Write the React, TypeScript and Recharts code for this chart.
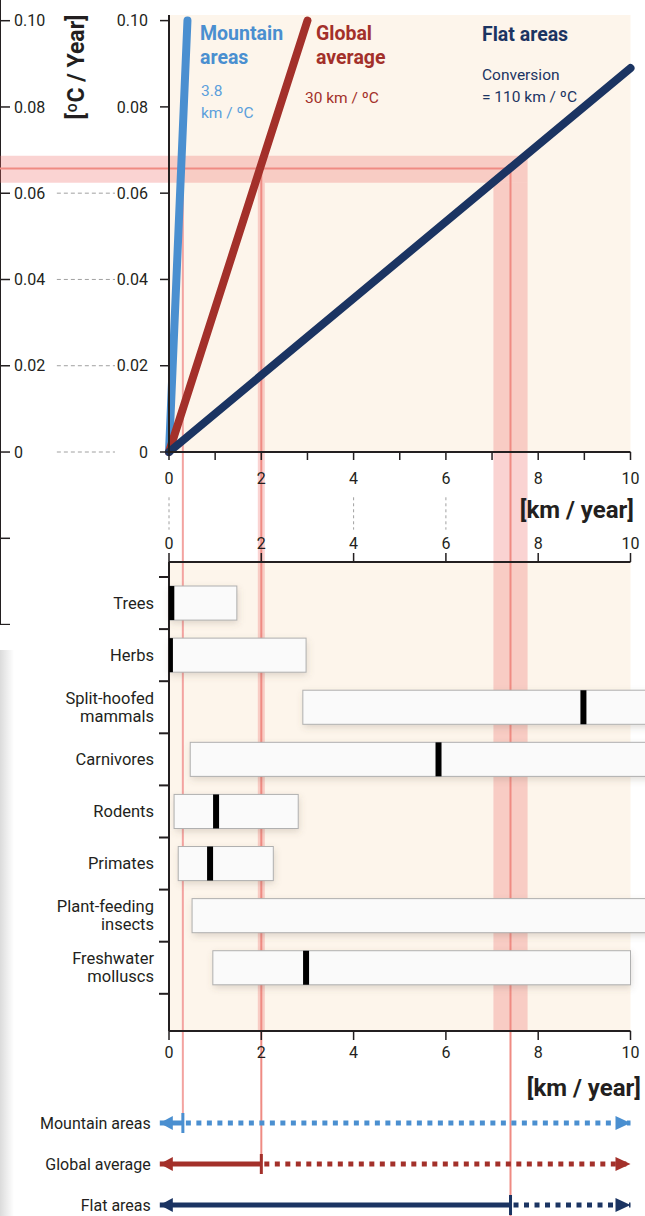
import React from 'react';
import { ComposedChart, LineChart, Line, Scatter, XAxis, YAxis, ReferenceArea, ReferenceLine } from 'recharts';

const FONT = 'Roboto, "Noto Sans", sans-serif';
const INK = '#231f20';
const BLUE = '#4a8fd0';
const BLUE_LIGHT = '#5b9fdc';
const RED = '#a3302a';
const NAVY = '#1b3462';
const PEACH = '#fdf5eb';
const BAND = 'rgba(240, 110, 105, 0.3)';
const RULE = '#ef8b83';

// upper panel: warming rate (ºC / year) vs. shift speed needed (km / year)
const mountainLine = [{ km: 0, rate: 0 }, { km: 0.4, rate: 0.1 }];
const globalLine = [{ km: 0, rate: 0 }, { km: 3.0, rate: 0.1 }];
const flatLine = [{ km: 0, rate: 0 }, { km: 10, rate: 0.089 }];
const rateTicks = [0, 0.02, 0.04, 0.06, 0.08, 0.1];
const ghostTicks = [-0.04, -0.02, 0, 0.02, 0.04, 0.06, 0.08, 0.1];
const kmTicks = [0, 1, 2, 3, 4, 5, 6, 7, 8, 9, 10];
const kmLabelTicks = [0, 2, 4, 6, 8, 10];
const leaderRates = [0, 0.02, 0.04, 0.06];
const leaderKm = [0, 4, 6];

// observed warming and the speeds it implies
const observedRate = 0.0657;
const observedRange = [0.0624, 0.0687];
const regions = ['Mountain areas', 'Global average', 'Flat areas'];
const regionColors = [BLUE, RED, NAVY];
const requiredSpeed = [0.3, 2.0, 7.4];
const flatSpeedRange = [7.03, 7.77];

// lower panel: dispersal speeds of taxa (km / year)
const taxa = [
  'Trees',
  'Herbs',
  'Split-hoofed\nmammals',
  'Carnivores',
  'Rodents',
  'Primates',
  'Plant-feeding\ninsects',
  'Freshwater\nmolluscs',
];
const speedLow = [0, 0, 2.9, 0.46, 0.11, 0.2, 0.5, 0.95];
const speedHigh = [1.47, 2.97, 12, 12, 2.8, 2.26, 12, 10];
const speedMedian: (number | null)[] = [0.05, 0.02, 8.98, 5.84, 1.02, 0.89, null, 2.97];

const taxonRows = taxa.map((name, i) => ({ name, pos: i + 0.5, low: speedLow[i], high: speedHigh[i], median: speedMedian[i] }));
const taxonTicks = taxa.flatMap((_, i) => [i, i + 0.5]).concat(taxa.length);

const fmtRate = (v: number) => (v === 0 ? '0' : v.toFixed(2));
const tickText = { fill: INK, fontSize: 16, fontFamily: FONT };
const axisStroke = { stroke: INK, strokeWidth: 2 };
const tickStroke = { stroke: INK, strokeWidth: 1.5 };
const HALF = 0.327;

function TaxonTick(props: any) {
  const { x, y, payload } = props;
  const v = payload.value as number;
  if (Number.isInteger(v)) {
    return <line x1={x - 10} x2={x} y1={y} y2={y} stroke={INK} strokeWidth={2} />;
  }
  const lines = taxa[Math.floor(v)].split('\n');
  const first = y + 5.5 - ((lines.length - 1) * 18) / 2;
  return (
    <text x={x - 15} y={first} textAnchor="end" fill={INK} fontSize={16.5} fontFamily={FONT}>
      {lines.map((l, i) => (
        <tspan key={i} x={x - 15} y={first + i * 18}>
          {l}
        </tspan>
      ))}
    </text>
  );
}

// box with a soft drop shadow drawn underneath
const BarBox = (p: any) => (
  <g>
    <rect x={p.x + 1} y={p.y + 3} width={p.width} height={p.height} fill="#6b5a48" fillOpacity={0.22} filter="url(#barBlur)" />
    <rect x={p.x} y={p.y} width={p.width} height={p.height} fill="#fafafa" stroke="#b0b0b0" strokeWidth={1} />
  </g>
);

const MedianMark = (p: any) => {
  if (p.cx == null || Number.isNaN(p.cx) || p.payload?.median == null) return <g />;
  return <rect x={p.cx - 3} y={p.cy - 17} width={6} height={34} fill="#000" />;
};

const solidDot = (color: string) => (p: any) => {
  const { cx, cy, index } = p;
  if (index === 0) {
    return <path key={`s${index}`} d={`M${cx},${cy} L${cx + 13},${cy - 7} L${cx + 13},${cy + 7} Z`} fill={color} />;
  }
  return <rect key={`s${index}`} x={cx - 1.5} y={cy - 10} width={3} height={20} fill={color} />;
};

const dottedDot = (color: string) => (p: any) => {
  const { cx, cy, index } = p;
  if (index === 0) return <g key={`d${index}`} />;
  return <path key={`d${index}`} d={`M${cx},${cy} L${cx - 15},${cy - 7} L${cx - 15},${cy + 7} Z`} fill={color} />;
};

export default function App() {
  return (
    <div style={{ position: 'absolute', left: 0, top: 0, width: 645, height: 1216, overflow: 'hidden', background: '#fff', fontFamily: FONT }}>
      <svg width={1} height={1} style={{ position: 'absolute', left: 0, top: 0 }}>
        <defs>
          <filter id="barBlur" x="-20%" y="-60%" width="140%" height="220%">
            <feGaussianBlur stdDeviation="3.5" />
          </filter>
        </defs>
      </svg>

      {/* page edge shadow */}
      <div style={{ position: 'absolute', left: 0, top: 650, width: 14, height: 566, background: 'linear-gradient(to right, rgba(0,0,0,0.14), rgba(0,0,0,0))' }} />

      {/* cut-off axis of the neighbouring panel */}
      <div style={{ position: 'absolute', left: 0, top: 0 }}>
        <LineChart width={120} height={625} margin={{ top: 0, right: 0, bottom: 0, left: 0 }}>
          <XAxis hide type="number" domain={[0, 1]} />
          <YAxis
            orientation="left"
            mirror
            type="number"
            domain={[-0.0401, 0.1048]}
            allowDataOverflow
            ticks={ghostTicks}
            interval={0}
            tickSize={10}
            tickMargin={4}
            tickFormatter={(v: number) => (v < 0 ? '' : fmtRate(v))}
            axisLine={{ stroke: INK, strokeWidth: 2 }}
            tickLine={tickStroke}
            tick={{ ...tickText, textAnchor: 'start' }}
          />
        </LineChart>
      </div>

      {/* upper panel */}
      <div style={{ position: 'absolute', left: 0, top: 0, width: 645, height: 532, overflow: 'hidden' }}>
        <ComposedChart width={645} height={532} margin={{ top: 15, right: 14.5, bottom: 50, left: 0 }}>
          <ReferenceArea x1={0} x2={10} fill={PEACH} fillOpacity={1} stroke="none" zIndex={-95} />
          <ReferenceArea x1={-3.7} x2={flatSpeedRange[1]} y1={observedRange[0]} y2={observedRange[1]} fill={BAND} fillOpacity={1} stroke="none" ifOverflow="visible" zIndex={-90} />
          <ReferenceArea x1={flatSpeedRange[0]} x2={flatSpeedRange[1]} y1={-1} y2={observedRange[0]} fill={BAND} fillOpacity={1} stroke="none" ifOverflow="visible" zIndex={-90} />
          <ReferenceLine segment={[{ x: requiredSpeed[1], y: observedRange[0] }, { x: requiredSpeed[1], y: -1 }]} stroke={BAND} strokeWidth={7} ifOverflow="visible" zIndex={-88} />
          <ReferenceLine segment={[{ x: -3.7, y: observedRate }, { x: requiredSpeed[2], y: observedRate }]} stroke={RULE} strokeWidth={2} ifOverflow="visible" zIndex={-85} />
          <ReferenceLine segment={[{ x: requiredSpeed[0], y: observedRate }, { x: requiredSpeed[0], y: -1 }]} stroke="#f3a3a0" strokeWidth={2} ifOverflow="visible" zIndex={-85} />
          <ReferenceLine segment={[{ x: requiredSpeed[1], y: observedRate }, { x: requiredSpeed[1], y: -1 }]} stroke={RULE} strokeWidth={2} ifOverflow="visible" zIndex={-85} />
          <ReferenceLine segment={[{ x: requiredSpeed[2], y: observedRate }, { x: requiredSpeed[2], y: -1 }]} stroke={RULE} strokeWidth={2} ifOverflow="visible" zIndex={-85} />
          {leaderRates.map((r) => (
            <ReferenceLine key={`lr${r}`} segment={[{ x: -2.43, y: r }, { x: -1.17, y: r }]} stroke="#a0a0a0" strokeWidth={1} strokeDasharray="4 3" ifOverflow="visible" zIndex={-80} />
          ))}
          {leaderKm.map((k) => (
            <ReferenceLine key={`lk${k}`} segment={[{ x: k, y: -0.0105 }, { x: k, y: -0.018 }]} stroke="#a0a0a0" strokeWidth={1} strokeDasharray="3 3" ifOverflow="visible" zIndex={-80} />
          ))}
          <Line data={mountainLine} dataKey="rate" stroke={BLUE} strokeWidth={8} strokeLinecap="round" dot={false} isAnimationActive={false} />
          <Line data={globalLine} dataKey="rate" stroke={RED} strokeWidth={8} strokeLinecap="round" dot={false} isAnimationActive={false} />
          <Line data={flatLine} dataKey="rate" stroke={NAVY} strokeWidth={8} strokeLinecap="round" dot={false} isAnimationActive={false} />
          <XAxis
            type="number"
            dataKey="km"
            domain={[0, 10]}
            ticks={kmTicks}
            interval={0}
            tickFormatter={(v: number) => (v % 2 === 0 ? String(v) : '')}
            height={30}
            tickSize={8}
            tickMargin={13}
            axisLine={axisStroke}
            tickLine={tickStroke}
            tick={tickText}
          />
          <YAxis
            type="number"
            dataKey="rate"
            domain={[0, 0.1013]}
            ticks={rateTicks}
            interval={0}
            width={169}
            tickSize={9}
            tickMargin={12}
            tickFormatter={fmtRate}
            axisLine={axisStroke}
            tickLine={tickStroke}
            tick={tickText}
          />
        </ComposedChart>
      </div>

      {/* lower panel */}
      <div style={{ position: 'absolute', left: 0, top: 532, width: 645, height: 572, overflow: 'hidden' }}>
        <ComposedChart data={taxonRows} width={645} height={572} margin={{ top: 0, right: 14.5, bottom: 43, left: 0 }}>
          <ReferenceArea xAxisId="bottom" x1={0} x2={10} fill={PEACH} fillOpacity={1} stroke="none" zIndex={-95} />
          <ReferenceArea xAxisId="bottom" x1={flatSpeedRange[0]} x2={flatSpeedRange[1]} y1={-2} y2={8.714} fill={BAND} fillOpacity={1} stroke="none" ifOverflow="visible" zIndex={-90} />
          <ReferenceLine xAxisId="bottom" segment={[{ x: requiredSpeed[1], y: -2 }, { x: requiredSpeed[1], y: 8.714 }]} stroke={BAND} strokeWidth={7} ifOverflow="visible" zIndex={-88} />
          {requiredSpeed.map((s, i) => (
            <ReferenceLine key={`v${i}`} xAxisId="bottom" segment={[{ x: s, y: -2 }, { x: s, y: 20 }]} stroke={i === 0 ? '#f3a3a0' : RULE} strokeWidth={2} ifOverflow="visible" zIndex={-85} />
          ))}
          {taxonRows.map((row) => (
            <ReferenceArea key={row.name} xAxisId="bottom" x1={row.low} x2={row.high} y1={row.pos - HALF} y2={row.pos + HALF} shape={BarBox} ifOverflow="visible" zIndex={-60} />
          ))}
          <Scatter xAxisId="bottom" dataKey="pos" shape={MedianMark} isAnimationActive={false} />
          <XAxis xAxisId="top" orientation="top" type="number" dataKey="median" domain={[0, 10]} allowDataOverflow ticks={kmLabelTicks} interval={0} height={30} tickSize={9} tickMargin={4} axisLine={axisStroke} tickLine={tickStroke} tick={tickText} />
          <XAxis xAxisId="bottom" orientation="bottom" type="number" dataKey="median" domain={[0, 10]} allowDataOverflow ticks={kmLabelTicks} interval={0} height={30} tickSize={9} tickMargin={7} axisLine={axisStroke} tickLine={tickStroke} tick={tickText} />
          <YAxis
            type="number"
            dataKey="pos"
            domain={[-0.288, 8.714]}
            reversed
            allowDataOverflow
            ticks={taxonTicks}
            interval={0}
            width={169}
            tickSize={0}
            tickMargin={0}
            tickLine={false}
            axisLine={axisStroke}
            tick={<TaxonTick />}
          />
        </ComposedChart>
      </div>

      {/* required speed per region */}
      <div style={{ position: 'absolute', left: 0, top: 1104, width: 645, height: 112, overflow: 'hidden' }}>
        <ComposedChart width={645} height={112} margin={{ top: 0, right: 14.5, bottom: 0, left: 9.8 }}>
          <XAxis hide type="number" dataKey="km" domain={[-0.2, 10]} />
          <YAxis
            type="number"
            dataKey="row"
            domain={[-0.463, 2.268]}
            reversed
            ticks={[0, 1, 2]}
            interval={0}
            width={150}
            tickSize={0}
            tickMargin={9}
            tickLine={false}
            axisLine={false}
            tickFormatter={(i: number) => regions[i] ?? ''}
            tick={{ fill: INK, fontSize: 16, fontFamily: FONT }}
          />
          {requiredSpeed.map((s, i) => (
            <ReferenceLine key={`c${i}`} segment={[{ x: s, y: -2 }, { x: s, y: i === 2 ? 4 : i }]} stroke={i === 0 ? '#f3a3a0' : RULE} strokeWidth={2} ifOverflow="visible" zIndex={-85} />
          ))}
          {regions.map((r, i) => (
            <Line
              key={`solid${r}`}
              data={[{ km: -0.2, row: i }, { km: requiredSpeed[i], row: i }]}
              dataKey="row"
              stroke={regionColors[i]}
              strokeWidth={5}
              dot={solidDot(regionColors[i])}
              isAnimationActive={false}
            />
          ))}
          {regions.map((r, i) => (
            <Line
              key={`dot${r}`}
              data={[{ km: requiredSpeed[i], row: i }, { km: 10, row: i }]}
              dataKey="row"
              stroke={regionColors[i]}
              strokeWidth={5}
              strokeDasharray="5 5.5"
              strokeDashoffset={-3}
              dot={dottedDot(regionColors[i])}
              isAnimationActive={false}
            />
          ))}
        </ComposedChart>
      </div>

      {/* annotations */}
      <svg width={645} height={1216} style={{ position: 'absolute', left: 0, top: 0, pointerEvents: 'none' }} fontFamily={FONT}>
        <text transform="translate(76,67) rotate(-90)" textAnchor="middle" dominantBaseline="central" fontSize={23} fontWeight={700} fill={INK}>
          [ºC / Year]
        </text>
        <text x={200} y={40} fontSize={19.5} fontWeight={700} fill={BLUE}>Mountain</text>
        <text x={200} y={64} fontSize={19.5} fontWeight={700} fill={BLUE}>areas</text>
        <text x={201} y={96} fontSize={15.5} fill={BLUE_LIGHT}>3.8</text>
        <text x={201} y={118} fontSize={15.5} fill={BLUE_LIGHT}>km / ºC</text>
        <text x={316} y={40} fontSize={19.5} fontWeight={700} fill={RED}>Global</text>
        <text x={316} y={64} fontSize={19.5} fontWeight={700} fill={RED}>average</text>
        <text x={305} y={103} fontSize={15.5} fill={RED}>30 km / ºC</text>
        <text x={482} y={41} fontSize={19.5} fontWeight={700} fill={NAVY}>Flat areas</text>
        <text x={482} y={80} fontSize={15.5} fill={NAVY}>Conversion</text>
        <text x={482} y={102} fontSize={15.5} fill={NAVY}>= 110 km / ºC</text>
        <text x={634} y={518} textAnchor="end" fontSize={24} fontWeight={700} fill={INK}>[km / year]</text>
        <text x={641} y={1096} textAnchor="end" fontSize={24} fontWeight={700} fill={INK}>[km / year]</text>
      </svg>
    </div>
  );
}
